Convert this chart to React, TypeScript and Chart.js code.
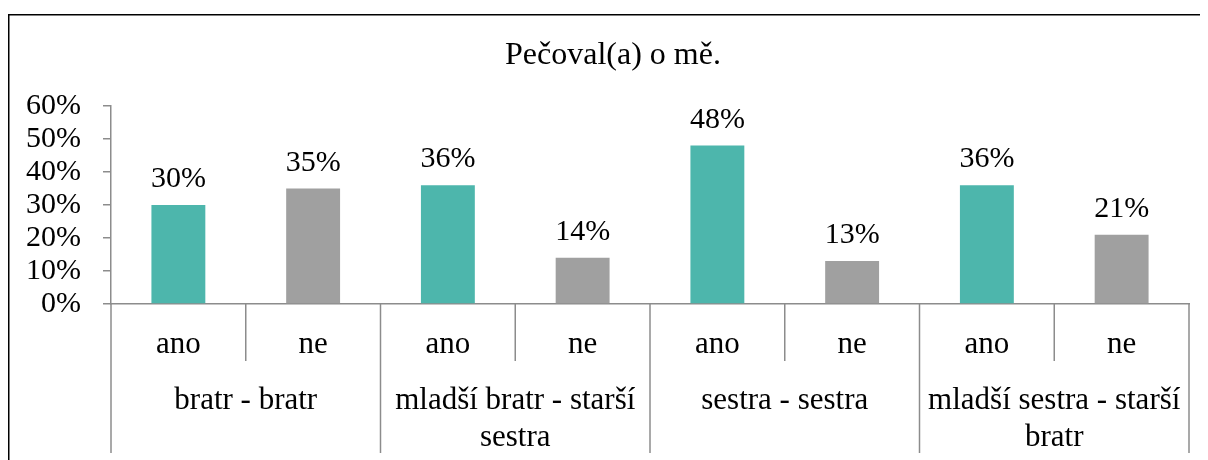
import { useEffect, useRef } from 'react';
import { Chart, registerables } from 'chart.js';

Chart.register(...registerables);

const chartTitle = 'Pečoval(a) o mě.';
const groupLabels: string[][] = [
  ['bratr - bratr'],
  ['mladší bratr - starší', 'sestra'],
  ['sestra - sestra'],
  ['mladší sestra - starší', 'bratr'],
];
const answerLabels = ['ano', 'ne'];
const anoValues = [30, 36, 48, 36];
const neValues = [35, 14, 13, 21];
const yMin = 0;
const yMax = 60;
const yStep = 10;

const TEAL = '#4DB6AC';
const GRAY = '#A0A0A0';
const AXIS = '#8C8C8C';
const FONT = "'Liberation Serif', 'Times New Roman', serif";

const W = 1200;
const H = 452;

export default function App() {
  const ref = useRef<HTMLCanvasElement | null>(null);

  useEffect(() => {
    document.documentElement.style.overflow = 'hidden';
    const canvas = ref.current;
    if (!canvas) return;

    const labels: string[] = [];
    const values: number[] = [];
    const colors: string[] = [];
    groupLabels.forEach((_, g) => {
      labels.push(answerLabels[0]);
      values.push(anoValues[g]);
      colors.push(TEAL);
      labels.push(answerLabels[1]);
      values.push(neValues[g]);
      colors.push(GRAY);
    });

    const framePlugin = {
      id: 'frame',
      beforeDraw(chart: any) {
        const ctx = chart.ctx;
        ctx.save();
        ctx.strokeStyle = '#000';
        ctx.lineWidth = 1.5;
        ctx.beginPath();
        ctx.moveTo(0.75, chart.height);
        ctx.lineTo(0.75, 6.75);
        ctx.lineTo(chart.width, 6.75);
        ctx.stroke();
        ctx.fillStyle = '#000';
        ctx.font = `32px ${FONT}`;
        ctx.textAlign = 'center';
        ctx.textBaseline = 'alphabetic';
        ctx.fillText(chartTitle, 605, 56);
        ctx.restore();
      },
    };

    const dataLabelPlugin = {
      id: 'dataLabels',
      afterDatasetsDraw(chart: any) {
        const ctx = chart.ctx;
        const meta = chart.getDatasetMeta(0);
        ctx.save();
        ctx.fillStyle = '#000';
        ctx.font = `30px ${FONT}`;
        ctx.textAlign = 'center';
        ctx.textBaseline = 'alphabetic';
        meta.data.forEach((bar: any, i: number) => {
          ctx.fillText(values[i] + '%', bar.x, bar.y - 18);
        });
        ctx.restore();
      },
    };

    const groupAxisPlugin = {
      id: 'groupAxis',
      afterDraw(chart: any) {
        const ctx = chart.ctx;
        const xs = chart.scales.x;
        const n = labels.length;
        const p0 = xs.getPixelForValue(0);
        const p1 = xs.getPixelForValue(1);
        const cw = p1 - p0;
        const axisY = chart.chartArea.bottom;
        ctx.save();
        ctx.strokeStyle = AXIS;
        ctx.lineWidth = 1.5;
        for (let k = 0; k <= n; k++) {
          const x = k === n ? xs.getPixelForValue(n - 1) + cw / 2 : xs.getPixelForValue(k) - cw / 2;
          const inner = k % 2 === 1;
          ctx.beginPath();
          ctx.moveTo(x, axisY);
          ctx.lineTo(x, inner ? 353 : 445);
          ctx.stroke();
        }
        ctx.fillStyle = '#000';
        ctx.font = `31px ${FONT}`;
        ctx.textAlign = 'center';
        ctx.textBaseline = 'alphabetic';
        groupLabels.forEach((lines, g) => {
          const cx = (xs.getPixelForValue(2 * g) + xs.getPixelForValue(2 * g + 1)) / 2;
          lines.forEach((line, li) => {
            ctx.fillText(line, cx, 401 + li * 37);
          });
        });
        ctx.restore();
      },
    };

    const chart = new Chart(canvas, {
      type: 'bar',
      data: {
        labels,
        datasets: [
          {
            data: values,
            backgroundColor: colors,
            borderWidth: 0,
            barPercentage: 0.4,
            categoryPercentage: 1.0,
          },
        ],
      },
      options: {
        responsive: false,
        animation: false,
        events: [],
        layout: { padding: { top: 98, left: 0, right: 19, bottom: 0 } },
        plugins: {
          legend: { display: false },
          title: { display: false },
          tooltip: { enabled: false },
        },
        scales: {
          x: {
            offset: true,
            grid: { display: false, drawTicks: false },
            border: { display: true, color: AXIS, width: 1.5 },
            ticks: {
              color: '#000',
              font: { family: FONT, size: 31 },
              padding: 22,
              autoSkip: false,
              maxRotation: 0,
              minRotation: 0,
            },
            afterFit(scale: any) {
              scale.height = H - 296;
            },
          },
          y: {
            min: yMin,
            max: yMax,
            grid: {
              display: true,
              drawOnChartArea: false,
              drawTicks: true,
              tickLength: 8,
              color: AXIS,
              lineWidth: 1.5,
            },
            border: { display: true, color: AXIS, width: 1.5 },
            ticks: {
              stepSize: yStep,
              autoSkip: false,
              color: '#000',
              font: { family: FONT, size: 30, lineHeight: 1 },
              padding: 22,
              callback: (v: any) => v + '%',
            },
            afterFit(scale: any) {
              scale.width = 103;
            },
          },
        },
      },
      plugins: [framePlugin, dataLabelPlugin, groupAxisPlugin],
    });

    return () => {
      chart.destroy();
    };
  }, []);

  return (
    <div style={{ width: W, height: H }}>
      <canvas ref={ref} width={W} height={H} style={{ display: 'block', width: W, height: H }} />
    </div>
  );
}
